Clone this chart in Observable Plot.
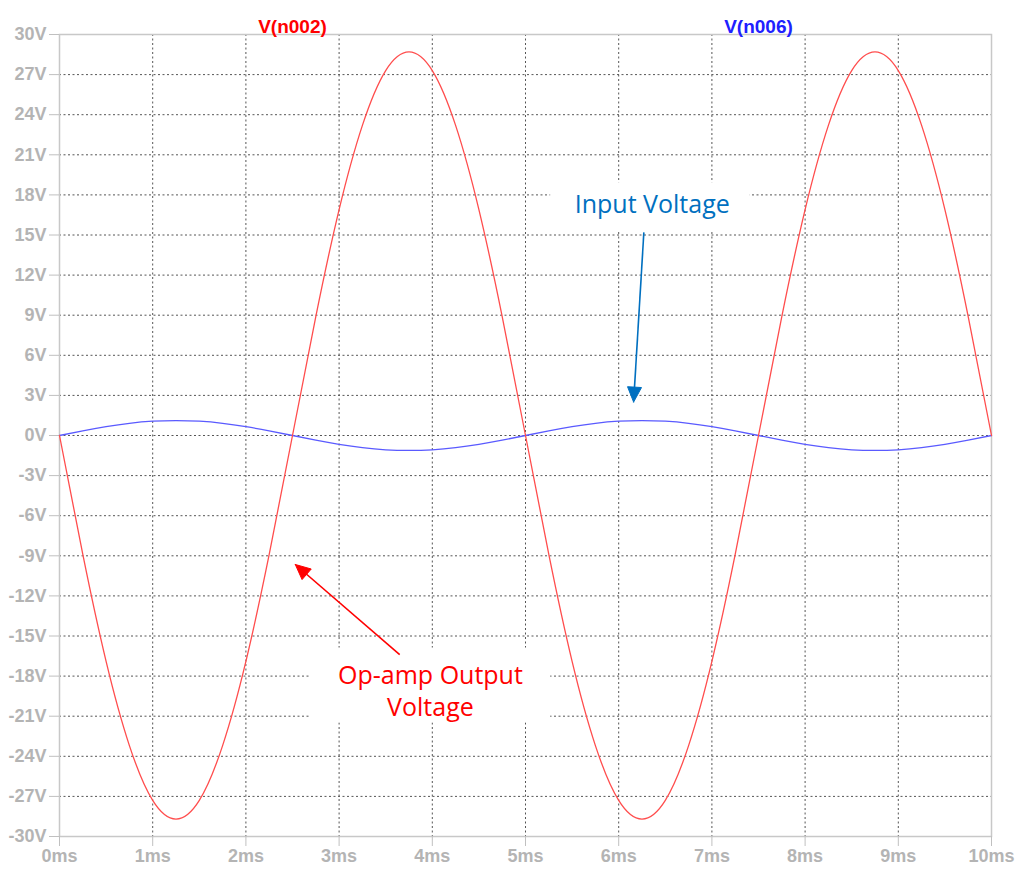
<!DOCTYPE html>
<html><head><meta charset="utf-8">
<script src="https://cdn.jsdelivr.net/npm/d3@7"></script>
<script src="https://cdn.jsdelivr.net/npm/@observablehq/plot@0.6"></script>
<style>
body{margin:0;background:#fff}
#chart svg g[aria-label$="tick label"]{font-size:18px;font-weight:bold;fill:#b4b4b4}
</style></head><body><div id="chart"></div>
<script>
// time axis (ms)
const times = [0,0.25,0.5,0.75,1,1.25,1.5,1.75,2,2.25,2.5,2.75,3,3.25,3.5,3.75,4,4.25,4.5,4.75,5,
  5.25,5.5,5.75,6,6.25,6.5,6.75,7,7.25,7.5,7.75,8,8.25,8.5,8.75,9,9.25,9.5,9.75,10];
// V(n002) op-amp output (V)
const vOut = [0,-8.9,-16.9,-23.2,-27.3,-28.7,-27.3,-23.2,-16.9,-8.9,0,8.9,16.9,23.2,27.3,28.7,27.3,23.2,16.9,8.9,0,
  -8.9,-16.9,-23.2,-27.3,-28.7,-27.3,-23.2,-16.9,-8.9,0,8.9,16.9,23.2,27.3,28.7,27.3,23.2,16.9,8.9,0];
// V(n006) input (V)
const vIn = [0,0.35,0.66,0.91,1.07,1.12,1.07,0.91,0.66,0.35,0,-0.35,-0.66,-0.91,-1.07,-1.12,-1.07,-0.91,-0.66,-0.35,0,
  0.35,0.66,0.91,1.07,1.12,1.07,0.91,0.66,0.35,0,-0.35,-0.66,-0.91,-1.07,-1.12,-1.07,-0.91,-0.66,-0.35,0];
const xTicks = [0,1,2,3,4,5,6,7,8,9,10];
const yTicks = [-30,-27,-24,-21,-18,-15,-12,-9,-6,-3,0,3,6,9,12,15,18,21,24,27,30];
const seriesTitles = [{x:2.5, t:"V(n002)", c:"#ff0000"},{x:7.5, t:"V(n006)", c:"#2020ff"}];
const annoTexts = [
  {x:6.36, y:17.45, t:"Input Voltage", c:"#0070c0"},
  {x:3.98, y:-19.0, t:"Op-amp Output\nVoltage", c:"#ff0000"}
];
const annoBoxes = [
  {x1:5.27, x2:7.41, y1:15.2, y2:18.9},
  {x1:2.69, x2:5.27, y1:-21.5, y2:-15.9}
];
const annoArrows = [
  {x1:6.27, y1:15.2, x2:6.16, y2:2.5, c:"#0070c0"},
  {x1:3.65, y1:-16.4, x2:2.53, y2:-9.65, c:"#ff0000"}
];

const outData = times.map((t,i)=>({t, v:vOut[i]}));
const inData = times.map((t,i)=>({t, v:vIn[i]}));

function build(heads){
  const marks = [
    Plot.gridX(xTicks.slice(1,-1), {stroke:"#555", strokeOpacity:1, strokeDasharray:"2,2.5"}),
    Plot.gridY(yTicks.slice(1,-1), {stroke:"#555", strokeOpacity:1, strokeDasharray:"2,2.5"}),
    Plot.rect(annoBoxes, {x1:"x1", x2:"x2", y1:"y1", y2:"y2", fill:"white"}),
    Plot.frame({stroke:"#c8c8c8", strokeWidth:1.5}),
    Plot.axisX(xTicks, {tickFormat:d=>d+"ms", tickSize:10, tickPadding:3, stroke:"#c0c0c0", fill:"#b4b4b4", label:null}),
    Plot.axisY(yTicks, {tickFormat:d=>d+"V", tickSize:10, tickPadding:3, stroke:"#c0c0c0", fill:"#b4b4b4", label:null}),
    Plot.line(inData, {x:"t", y:"v", stroke:"#5a5aff", strokeWidth:1.3, curve:"natural"}),
    Plot.line(outData, {x:"t", y:"v", stroke:"#ff4d4d", strokeWidth:1.3, curve:"natural"}),
    Plot.text(seriesTitles, {x:"x", text:"t", frameAnchor:"top", dy:-15, fill:d=>d.c, fontSize:19, fontWeight:"bold", fontFamily:"'Liberation Sans', Arial, sans-serif"}),
  ];
  for (const a of annoTexts) {
    marks.push(Plot.text([a], {x:"x", y:"y", text:"t", fill:a.c, fontSize:25, lineHeight:1.28, fontFamily:"'Open Sans', 'Noto Sans', sans-serif"}));
  }
  if (heads) {
    heads.forEach((h,i)=>{
      const c = annoArrows[i].c;
      marks.push(Plot.link([h.shaft], {x1:"x1", y1:"y1", x2:"x2", y2:"y2", stroke:c, strokeWidth:1.6}));
      marks.push(Plot.line(h.tri, {x:"x", y:"y", fill:c, stroke:c, strokeWidth:1}));
    });
  }
  return Plot.plot({
    width:1019, height:873,
    marginLeft:59, marginRight:28, marginTop:34, marginBottom:37,
    style:{fontFamily:"'Liberation Sans', Arial, sans-serif", background:"#fff", overflow:"visible"},
    x:{domain:[0,10]},
    y:{domain:[-30,30]},
    color:{type:"identity"},
    marks
  });
}

const first = build(null);
const sx = first.scale("x"), sy = first.scale("y");
const heads = annoArrows.map(a=>{
  const p1 = [sx.apply(a.x1), sy.apply(a.y1)], p2 = [sx.apply(a.x2), sy.apply(a.y2)];
  const dx = p2[0]-p1[0], dy = p2[1]-p1[1], L = Math.hypot(dx,dy);
  const u = [dx/L, dy/L], n = [-u[1], u[0]];
  const hl = 15, hw = 7;
  const b = [p2[0]-u[0]*hl, p2[1]-u[1]*hl];
  const pts = [p2, [b[0]+n[0]*hw, b[1]+n[1]*hw], [b[0]-n[0]*hw, b[1]-n[1]*hw], p2];
  return {
    shaft:{x1:a.x1, y1:a.y1, x2:sx.invert(b[0]+u[0]*2), y2:sy.invert(b[1]+u[1]*2)},
    tri: pts.map(p=>({x:sx.invert(p[0]), y:sy.invert(p[1])}))
  };
});
document.getElementById("chart").append(build(heads));
</script></body></html>
